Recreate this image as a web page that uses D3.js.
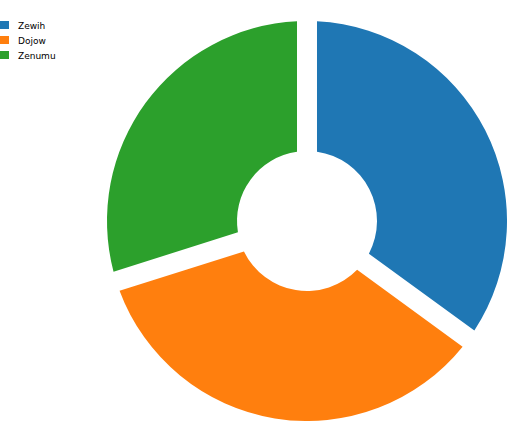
<!DOCTYPE html>
<html>
<head>
<meta charset="utf-8">
<script src="https://cdn.jsdelivr.net/npm/d3@7"></script>
<style>
html,body{margin:0;padding:0;background:#fff;}
svg{display:block;}
</style>
</head>
<body>
<svg id="chart" width="507" height="421"></svg>
<script>
const categories = ["Zewih", "Dojow", "Zenumu"];
const values = [35.1, 35.2, 29.7];
const colors = ["#1f77b4", "#ff7f0e", "#2ca02c"];

const svg = d3.select("#chart");
const cx = 307, cy = 221, outerR = 200, innerR = 70;

const color = d3.scaleOrdinal().domain(categories).range(colors);
const pie = d3.pie().sort(null).padAngle(0.1).value(d => d.value);
const arc = d3.arc().innerRadius(innerR).outerRadius(outerR).padRadius(200);

const data = categories.map((c, i) => ({name: c, value: values[i]}));

svg.append("g")
  .attr("transform", `translate(${cx},${cy})`)
  .selectAll("path")
  .data(pie(data))
  .join("path")
  .attr("d", arc)
  .attr("fill", d => color(d.data.name));

const legend = svg.append("g").attr("transform", "translate(0,21)");
const rows = legend.selectAll("g").data(categories).join("g")
  .attr("transform", (d, i) => `translate(0,${i * 15})`);
rows.append("rect").attr("x", 0).attr("y", 0).attr("width", 9).attr("height", 8)
  .attr("fill", d => color(d));
rows.append("text").attr("x", 18).attr("y", 7.5)
  .attr("font-family", "DejaVu Sans, sans-serif").attr("font-size", 9)
  .attr("fill", "#000").text(d => d);
</script>
</body>
</html>
